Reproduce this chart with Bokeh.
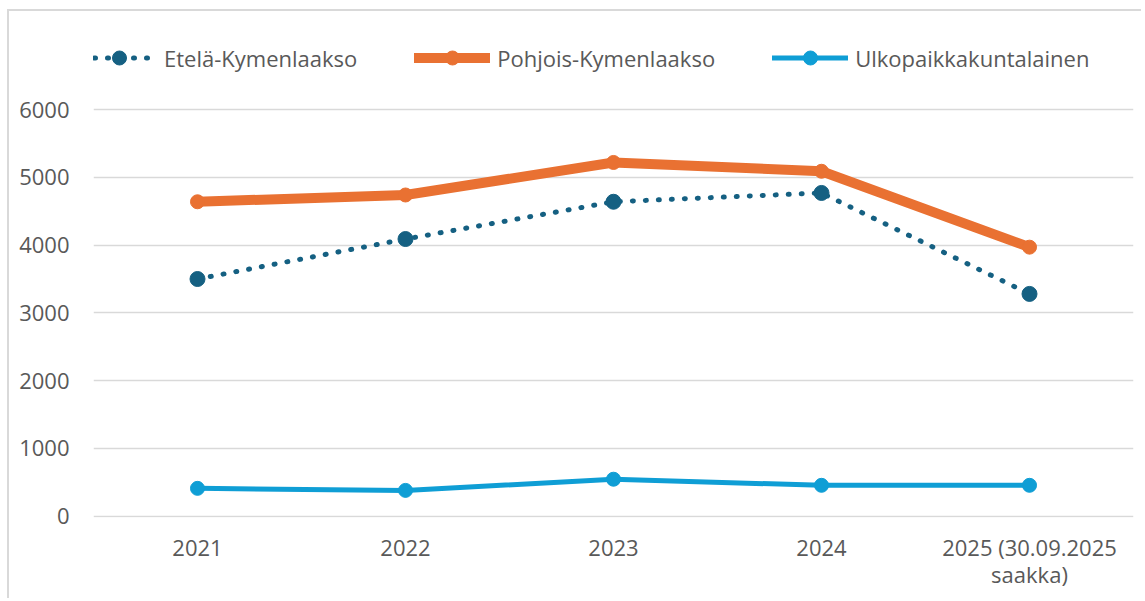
from bokeh.plotting import figure
from bokeh.models import Range1d, FactorRange, Legend, LegendItem, ColumnDataSource
from bokeh.embed import file_html
from bokeh.resources import INLINE

categories = ["2021", "2022", "2023", "2024", "2025 (30.09.2025\nsaakka)"]
etela = [3500, 4090, 4640, 4770, 3280]
pohjois = [4640, 4740, 5220, 5090, 3970]
ulko = [410, 380, 545, 455, 455]
series_names = ["Etelä-Kymenlaakso", "Pohjois-Kymenlaakso", "Ulkopaikkakuntalainen"]
y_ticks = [0, 1000, 2000, 3000, 4000, 5000, 6000]

FONT = "Open Sans"
TXT = "#595959"
FS = "22px"

p = figure(width=1134, height=589, output_backend="svg", toolbar_location=None,
           x_range=FactorRange(factors=categories), y_range=Range1d(-20, 7153),
           min_border_left=84, min_border_right=10, min_border_top=20, min_border_bottom=83)
p.styles = {"border-top": "2px solid #d9d9d9", "border-left": "2px solid #d9d9d9",
            "margin-left": "7px", "margin-top": "9px"}
p.outline_line_color = None
p.background_fill_color = "white"
p.border_fill_color = "white"

src = ColumnDataSource(dict(x=categories, e=etela, po=pohjois, u=ulko))

l1 = p.line("x", "e", source=src, line_color="#156082", line_width=5, line_dash="1 12", line_cap="round")
s1 = p.scatter("x", "e", source=src, size=15, fill_color="#156082", line_color="#156082")
l2 = p.line("x", "po", source=src, line_color="#E97132", line_width=10, line_cap="round", line_join="round")
s2 = p.scatter("x", "po", source=src, size=14, fill_color="#E97132", line_color="#E97132")
l3 = p.line("x", "u", source=src, line_color="#0F9ED5", line_width=5, line_cap="round", line_join="round")
s3 = p.scatter("x", "u", source=src, size=14, fill_color="#0F9ED5", line_color="#0F9ED5")

p.yaxis.ticker = y_ticks
p.xaxis.axis_line_color = None
p.yaxis.axis_line_color = None
for ax in (p.xaxis, p.yaxis):
    ax.major_tick_line_color = None
    ax.minor_tick_line_color = None
    ax.major_label_text_font = FONT
    ax.major_label_text_font_size = FS
    ax.major_label_text_color = TXT
p.yaxis.major_label_standoff = 18
p.xaxis.major_label_standoff = 8
p.xaxis.major_label_text_line_height = 0.92
p.xgrid.grid_line_color = None
p.ygrid.grid_line_color = "#d9d9d9"
p.ygrid.grid_line_width = 1.5

legend = Legend(items=[
    LegendItem(label=series_names[0], renderers=[l1, s1]),
    LegendItem(label=series_names[1], renderers=[l2, s2]),
    LegendItem(label=series_names[2], renderers=[l3, s3]),
], orientation="horizontal", location=(-12, 442), padding=0, margin=0,
    spacing=57, glyph_width=76, glyph_height=35, label_height=35, label_standoff=7,
    label_text_font=FONT, label_text_font_size=FS, label_text_color=TXT,
    border_line_color=None, background_fill_alpha=0)
p.add_layout(legend, "center")

open("out.html", "w").write(file_html(p, INLINE))
